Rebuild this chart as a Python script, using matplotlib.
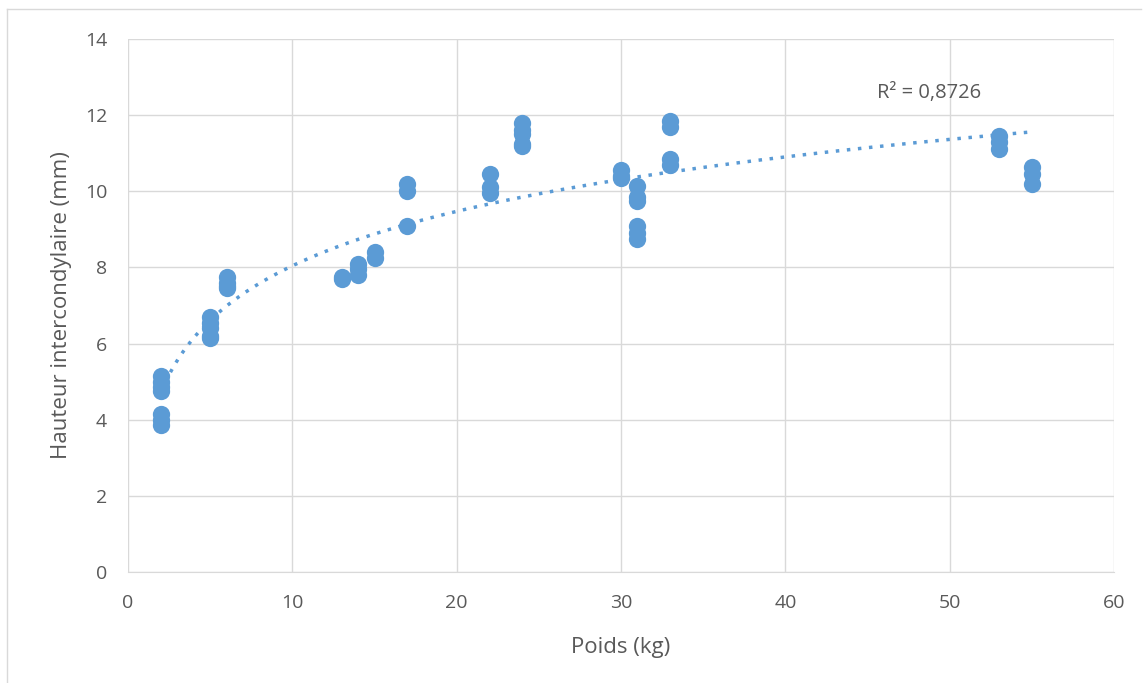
import numpy as np
import matplotlib.pyplot as plt
from matplotlib.lines import Line2D

# poids (kg) and hauteur intercondylaire (mm)
poids = [2, 2, 2, 2, 2, 2, 2,
         5, 5, 5, 5, 5,
         6, 6, 6, 6,
         13, 13,
         14, 14, 14,
         15, 15,
         17, 17, 17,
         22, 22, 22,
         24, 24, 24, 24, 24,
         30, 30, 30,
         31, 31, 31, 31, 31, 31,
         33, 33, 33, 33,
         53, 53, 53,
         55, 55, 55]
hauteur = [5.15, 5.0, 4.85, 4.75, 4.15, 4.0, 3.85,
           6.7, 6.55, 6.4, 6.2, 6.15,
           7.75, 7.6, 7.5, 7.45,
           7.75, 7.7,
           8.1, 7.95, 7.8,
           8.4, 8.25,
           10.2, 10.0, 9.1,
           10.45, 10.1, 9.95,
           11.8, 11.6, 11.5, 11.25, 11.2,
           10.55, 10.4, 10.35,
           10.15, 9.85, 9.75, 9.1, 8.9, 8.75,
           11.85, 11.7, 10.85, 10.7,
           11.45, 11.3, 11.1,
           10.65, 10.45, 10.2]
r2_label = "R² = 0,8726"

blue = "#5B9BD5"
grey_text = "#595959"
grid_col = "#D9D9D9"

plt.rcParams['font.family'] = ['Open Sans', 'DejaVu Sans']

fig = plt.figure(figsize=(11.48, 6.83), dpi=100)
ax = fig.add_axes([128 / 1148, 1 - 572 / 683, (1114 - 128) / 1148, (572 - 39) / 683])

x = np.array(poids, dtype=float)
y = np.array(hauteur, dtype=float)

ax.scatter(x, y, s=155, color=blue, zorder=3, linewidths=0)

# logarithmic trendline, as in Excel
a, b = np.polyfit(np.log(x), y, 1)
xt = np.linspace(x.min(), x.max(), 300)
ax.plot(xt, a * np.log(xt) + b, color=blue, linestyle=(0, (1, 2.2)),
        linewidth=2.5, zorder=2)
ax.text(45.6, 12.58, r2_label, fontsize=14.5, color=grey_text, va='center')

ax.set_xlim(0, 60)
ax.set_ylim(0, 14)
ax.set_xticks(range(0, 61, 10))
ax.set_yticks(range(0, 15, 2))
ax.grid(True, color=grid_col, linewidth=1)
ax.set_axisbelow(True)
for side in ['top', 'right', 'left']:
    ax.spines[side].set_visible(False)
ax.spines['bottom'].set_color(grid_col)
ax.tick_params(axis='x', length=0, labelsize=14, labelcolor=grey_text, pad=16)
ax.tick_params(axis='y', length=0, labelsize=14, labelcolor=grey_text, pad=15)

ax.set_xlabel("Poids (kg)", fontsize=16, color=grey_text, labelpad=18)
ax.set_ylabel("Hauteur intercondylaire (mm)", fontsize=16, color=grey_text, labelpad=9)

# light frame of the chart area (top and left edges)
fig.add_artist(Line2D([7 / 1148, 1141 / 1148], [1 - 9 / 683, 1 - 9 / 683],
                      transform=fig.transFigure, color=grid_col, linewidth=1))
fig.add_artist(Line2D([7 / 1148, 7 / 1148], [0, 1 - 9 / 683],
                      transform=fig.transFigure, color=grid_col, linewidth=1))

fig.savefig("out.png", dpi=100)
